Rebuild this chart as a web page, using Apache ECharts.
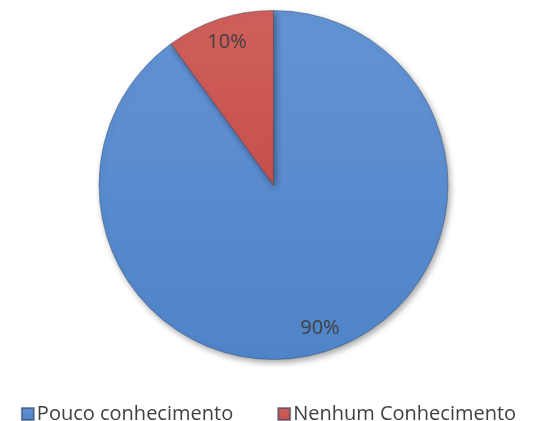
<!DOCTYPE html>
<html><head><meta charset="utf-8">
<script src="https://cdn.jsdelivr.net/npm/echarts@6/dist/echarts.min.js"></script>
<style>html,body{margin:0;padding:0;background:#fff}#c{width:537px;height:421px}</style>
</head><body><div id="c"></div>
<script>
var categories = ['Pouco conhecimento', 'Nenhum Conhecimento'];
var values = [90, 10];
var colors = ['#4F84C8', '#C6504C'];
var topColors = ['#6393D4', '#D0605B'];

var chart = echarts.init(document.getElementById('c'));
var mainData = categories.map(function (n, i) {
  return {
    name: n, value: values[i],
    itemStyle: {
      color: new echarts.graphic.LinearGradient(0, 0, 0, 1, [
        {offset: 0, color: topColors[i]},
        {offset: 1, color: colors[i]}
      ])
    }
  };
});
var labelData = categories.map(function (n, i) {
  return {name: n, value: values[i]};
});
chart.setOption({
  animation: false,
  color: colors,
  legend: {
    left: 'center',
    top: 399,
    itemWidth: 12,
    itemHeight: 12,
    itemGap: 44,
    icon: 'rect',
    data: categories,
    textStyle: {fontFamily: 'Open Sans', fontSize: 20, color: '#404040', padding: [0, 0, 0, -2]}
  },
  series: [{
    type: 'pie',
    center: [273.5, 185],
    radius: [0, 174.5],
    startAngle: 90,
    clockwise: true,
    label: {show: false},
    labelLine: {show: false},
    itemStyle: {
      borderColor: 'rgba(40,60,90,0.55)',
      borderWidth: 0.7,
      shadowBlur: 6,
      shadowOffsetX: 2,
      shadowOffsetY: 3,
      shadowColor: 'rgba(0,0,0,0.35)'
    },
    emphasis: {disabled: true},
    data: mainData
  }, {
    type: 'pie',
    silent: true,
    center: [273.5, 185],
    radius: [120, 174.5],
    startAngle: 90,
    clockwise: true,
    itemStyle: {color: 'rgba(0,0,0,0)', borderWidth: 0},
    label: {
      show: true,
      position: 'inside',
      formatter: '{d}%',
      fontFamily: 'Open Sans',
      fontSize: 20,
      color: '#404040'
    },
    labelLine: {show: false},
    emphasis: {disabled: true},
    data: labelData
  }]
});
</script></body></html>
